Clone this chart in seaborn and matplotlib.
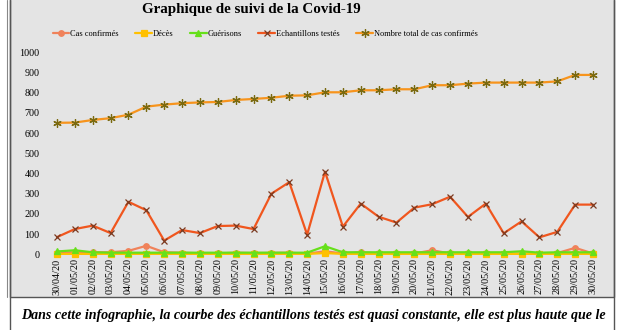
import matplotlib
matplotlib.use("Agg")
import matplotlib.pyplot as plt
from matplotlib.patches import Rectangle
from matplotlib.lines import Line2D
import seaborn as sns
import numpy as np

dates = ["30/04/20", "01/05/20", "02/05/20", "03/05/20", "04/05/20", "05/05/20",
         "06/05/20", "07/05/20", "08/05/20", "09/05/20", "10/05/20", "11/05/20",
         "12/05/20", "13/05/20", "14/05/20", "15/05/20", "16/05/20", "17/05/20",
         "18/05/20", "19/05/20", "20/05/20", "21/05/20", "22/05/20", "23/05/20",
         "24/05/20", "25/05/20", "26/05/20", "27/05/20", "28/05/20", "29/05/20",
         "30/05/20"]
cas_confirmes = [8, 10, 10, 10, 17, 42, 10, 8, 5, 4, 8, 6, 7, 8, 3, 15, 4, 10,
                 4, 4, 4, 20, 4, 6, 5, 3, 4, 3, 6, 32, 4]
deces = [2, 2, 2, 2, 2, 2, 2, 2, 2, 2, 2, 2, 2, 2, 2, 6, 2, 2, 2, 2, 2, 2, 2,
         2, 2, 2, 2, 2, 2, 2, 2]
guerisons = [14, 20, 10, 8, 8, 8, 8, 8, 8, 8, 8, 8, 8, 8, 8, 40, 10, 10, 10,
             10, 10, 10, 10, 10, 10, 10, 15, 8, 10, 10, 10]
echantillons = [85, 125, 142, 105, 260, 218, 68, 120, 105, 140, 142, 125, 300,
                357, 97, 409, 137, 251, 186, 157, 231, 248, 285, 185, 251, 104,
                163, 84, 111, 246, 246]
total = [651, 652, 665, 674, 691, 731, 741, 748, 752, 754, 764, 769, 775, 785,
         787, 802, 802, 812, 812, 817, 817, 837, 837, 845, 850, 850, 850, 850,
         856, 888, 888]
labels = ["Cas confirmés", "Décès", "Guérisons", "Echantillons testés",
          "Nombre total de cas confirmés"]
yticks = [0, 100, 200, 300, 400, 500, 600, 700, 800, 900, 1000]

sns.set_theme(style="white")
plt.rcParams["font.family"] = ["Liberation Serif", "DejaVu Serif"]
plt.rcParams["text.color"] = "black"

W, H = 620, 330
fig = plt.figure(figsize=(W / 100, H / 100), dpi=100)
fig.patch.set_facecolor("white")

panel_bg = "#e4e4e4"
fig.patches.append(Rectangle((10 / W, 1 - 297 / H), 604 / W, 300 / H,
                             transform=fig.transFigure, facecolor=panel_bg,
                             edgecolor="#555555", lw=1.0, zorder=-10))
fig.lines.append(Line2D([10 / W, 10 / W], [0, 1], transform=fig.transFigure,
                        color="#555555", lw=1.0, zorder=-5))
fig.lines.append(Line2D([7 / W, 7 / W], [1 - 297 / H, 1], transform=fig.transFigure,
                        color="#888888", lw=0.8, zorder=-5))
fig.lines.append(Line2D([614 / W, 614 / W], [0, 1], transform=fig.transFigure,
                        color="#555555", lw=1.0, zorder=-5))

left, right = 45 / W, 605 / W
bottom, top = 1 - 254.3 / H, 1 - 52.3 / H
ax = fig.add_axes([left, bottom, right - left, top - bottom])
ax.set_facecolor("none")
ax.set_zorder(2)

x = np.arange(len(dates))
styles = [
    (cas_confirmes, "#F0825A", "o", "#F0825A", 4),
    (deces, "#FFC000", "s", "#FFC000", 4.5),
    (guerisons, "#66E01A", "^", "#66E01A", 5),
    (echantillons, "#F0561E", "x", "#7A3A20", 5),
    (total, "#F7941D", (6, 2, 0), "#7A6A10", 6),
]
handles = []
for (vals, col, mk, mcol, ms), lab in zip(styles, labels):
    sns.lineplot(x=x, y=vals, ax=ax, color=col, lw=1.6, marker=mk, markersize=ms,
                 markeredgecolor=mcol, markerfacecolor=mcol, markeredgewidth=0.9,
                 clip_on=False, legend=False)
    handles.append(Line2D([], [], color=col, lw=1.6, marker=mk, markersize=ms,
                          markeredgecolor=mcol, markerfacecolor=mcol,
                          markeredgewidth=0.9))

ax.set_xlim(-0.67, len(dates) - 1 + 0.67)
ax.set_ylim(0, 1000)
ax.set_yticks(yticks)
ax.set_yticklabels([str(v) for v in yticks], fontsize=7.3)
ax.set_xticks(x)
ax.set_xticklabels(dates, rotation=90, fontsize=7.3)
ax.tick_params(axis="both", length=0, pad=4, colors="black")
ax.tick_params(axis="x", pad=3)
for s in ax.spines.values():
    s.set_visible(False)
ax.grid(False)
ax.set_xlabel("")
ax.set_ylabel("")

fig.text(251 / W, 1 - 10 / H, "Graphique de suivi de la Covid-19",
         ha="center", va="center", fontsize=10.8, fontweight="bold", color="black")
leg = fig.legend(handles, labels, loc="center", bbox_to_anchor=(265 / W, 1 - 34 / H),
                 ncol=5, frameon=False, fontsize=6, handlelength=2.0,
                 columnspacing=2.0, handletextpad=0.1)
for t in leg.get_texts():
    t.set_color("black")

fig.text(313 / W, 1 - 316 / H,
         "Dans cette infographie, la courbe des échantillons testés est quasi constante, elle est plus haute que le",
         ha="center", va="center", fontsize=10.05, fontweight="bold", style="italic",
         color="black")

fig.savefig("out.png", dpi=100)
